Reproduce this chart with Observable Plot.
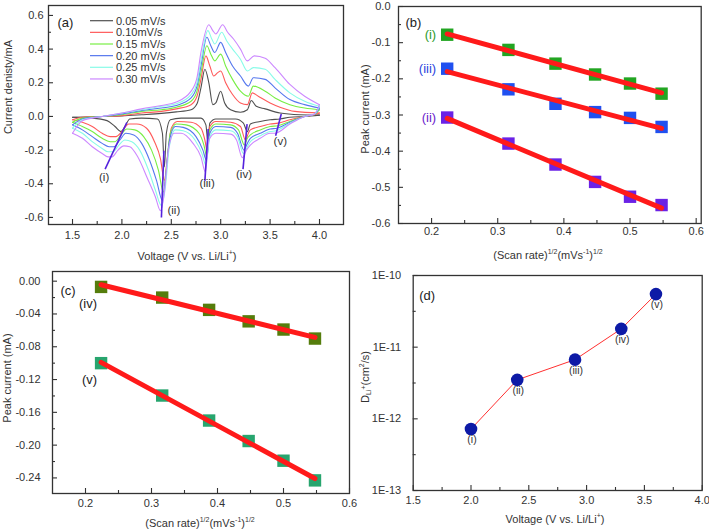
<!DOCTYPE html>
<html><head><meta charset="utf-8">
<script src="https://cdn.jsdelivr.net/npm/d3@7"></script>
<script src="https://cdn.jsdelivr.net/npm/@observablehq/plot@0.6"></script>
<style>
body{margin:0;background:#fff;}
#root{position:relative;width:709px;height:530px;font-family:"Liberation Sans",Arial,sans-serif;color:#333;overflow:hidden;}
.t{position:absolute;font-size:11px;white-space:nowrap;color:#333;line-height:1;}
.t sup{font-size:7px;vertical-align:5px;}
.t sub{font-size:7px;vertical-align:-2px;}
</style></head><body><div id="root"></div>
<script>
// ---------- Panel (a): cyclic voltammograms ----------
const scanRates = ["0.05 mV/s", "0.10mV/s", "0.15 mV/s", "0.20 mV/s", "0.25 mV/s", "0.30 mV/s"];
const an005 = [[1.5,-0.005],[1.8,0.0],[2.0,0.003],[2.2,0.01],[2.4,0.018],[2.55,0.027],[2.7,0.04],[2.76,0.075],[2.8,0.17],[2.84,0.28],[2.88,0.2],[2.92,0.07],[2.95,0.08],[3.0,0.15],[3.04,0.08],[3.1,0.04],[3.2,0.025],[3.27,0.04],[3.31,0.095],[3.36,0.06],[3.45,0.045],[3.6,0.02],[3.8,0.01],[4.0,0.008]];
const ca005 = [[1.5,-0.005],[1.7,-0.01],[1.85,-0.025],[1.93,-0.06],[1.99,-0.09],[2.03,-0.06],[2.08,-0.015],[2.2,-0.01],[2.36,-0.015],[2.41,-0.1],[2.43,-0.3],[2.45,-0.1],[2.49,-0.02],[2.6,-0.01],[2.8,-0.01],[2.85,-0.05],[2.87,-0.15],[2.89,-0.04],[2.95,-0.015],[3.15,-0.015],[3.23,-0.04],[3.27,-0.09],[3.3,-0.045],[3.4,-0.03],[3.5,-0.02],[3.6,-0.015],[3.7,-0.005],[3.85,0.0],[4.0,0.008]];
const an010 = [[1.5,-0.02],[1.6,-0.005],[1.8,0.0],[2.0,0.005],[2.2,0.02],[2.4,0.03],[2.55,0.045],[2.7,0.07],[2.76,0.12],[2.8,0.22],[2.85,0.36],[2.89,0.3],[2.93,0.24],[2.97,0.26],[3.0,0.27],[3.05,0.2],[3.12,0.13],[3.2,0.08],[3.27,0.07],[3.32,0.14],[3.38,0.12],[3.5,0.08],[3.6,0.055],[3.75,0.03],[4.0,0.02]];
const ca010 = [[1.5,-0.02],[1.6,-0.035],[1.7,-0.06],[1.8,-0.1],[1.88,-0.12],[1.94,-0.12],[2.0,-0.09],[2.07,-0.045],[2.15,-0.045],[2.25,-0.07],[2.33,-0.15],[2.39,-0.25],[2.43,-0.38],[2.46,-0.25],[2.5,-0.07],[2.56,-0.03],[2.7,-0.035],[2.8,-0.07],[2.84,-0.14],[2.865,-0.21],[2.89,-0.06],[2.95,-0.03],[3.1,-0.035],[3.2,-0.06],[3.25,-0.14],[3.28,-0.1],[3.3,-0.08],[3.4,-0.06],[3.5,-0.045],[3.58,-0.04],[3.7,-0.02],[3.85,0.0],[3.95,0.01],[4.0,0.02]];
const an015 = [[1.5,-0.035],[1.6,-0.01],[1.8,0.0],[2.0,0.01],[2.2,0.03],[2.4,0.04],[2.55,0.055],[2.7,0.09],[2.76,0.15],[2.8,0.26],[2.86,0.42],[2.9,0.37],[2.94,0.33],[3.0,0.37],[3.05,0.3],[3.12,0.22],[3.2,0.15],[3.28,0.12],[3.33,0.18],[3.45,0.15],[3.55,0.11],[3.7,0.07],[3.85,0.05],[4.0,0.04]];
const ca015 = [[1.5,-0.035],[1.6,-0.06],[1.7,-0.09],[1.8,-0.13],[1.88,-0.15],[1.93,-0.15],[1.99,-0.11],[2.05,-0.075],[2.13,-0.08],[2.22,-0.12],[2.3,-0.2],[2.37,-0.32],[2.42,-0.45],[2.45,-0.3],[2.49,-0.1],[2.55,-0.045],[2.65,-0.05],[2.78,-0.1],[2.83,-0.17],[2.86,-0.24],[2.89,-0.08],[2.95,-0.045],[3.1,-0.05],[3.18,-0.08],[3.24,-0.17],[3.27,-0.13],[3.3,-0.11],[3.4,-0.08],[3.5,-0.06],[3.58,-0.055],[3.7,-0.03],[3.85,0.0],[3.95,0.012],[4.0,0.04]];
const an020 = [[1.5,-0.05],[1.6,-0.015],[1.8,0.0],[2.0,0.015],[2.2,0.035],[2.4,0.05],[2.55,0.065],[2.7,0.11],[2.76,0.18],[2.8,0.3],[2.86,0.47],[2.9,0.42],[2.94,0.38],[3.0,0.44],[3.05,0.38],[3.12,0.3],[3.2,0.24],[3.28,0.18],[3.33,0.23],[3.45,0.22],[3.55,0.17],[3.7,0.1],[3.85,0.07],[4.0,0.05]];
const ca020 = [[1.5,-0.05],[1.6,-0.08],[1.7,-0.12],[1.8,-0.16],[1.87,-0.18],[1.92,-0.18],[1.98,-0.14],[2.04,-0.1],[2.12,-0.11],[2.2,-0.16],[2.28,-0.26],[2.35,-0.38],[2.41,-0.5],[2.44,-0.38],[2.48,-0.15],[2.54,-0.06],[2.62,-0.065],[2.75,-0.12],[2.82,-0.2],[2.855,-0.26],[2.89,-0.1],[2.95,-0.06],[3.1,-0.065],[3.17,-0.1],[3.235,-0.2],[3.27,-0.16],[3.3,-0.13],[3.4,-0.1],[3.5,-0.075],[3.57,-0.07],[3.7,-0.035],[3.85,0.0],[3.95,0.013],[4.0,0.05]];
const an025 = [[1.5,-0.07],[1.6,-0.02],[1.8,0.0],[2.0,0.02],[2.2,0.04],[2.4,0.06],[2.55,0.075],[2.7,0.13],[2.76,0.2],[2.8,0.33],[2.87,0.51],[2.91,0.46],[2.94,0.43],[3.01,0.5],[3.06,0.45],[3.12,0.4],[3.2,0.34],[3.27,0.27],[3.33,0.29],[3.45,0.28],[3.55,0.22],[3.7,0.14],[3.85,0.09],[4.0,0.06]];
const ca025 = [[1.5,-0.07],[1.6,-0.1],[1.7,-0.15],[1.8,-0.19],[1.86,-0.21],[1.91,-0.21],[1.97,-0.17],[2.03,-0.14],[2.1,-0.15],[2.18,-0.2],[2.27,-0.32],[2.34,-0.44],[2.4,-0.53],[2.44,-0.42],[2.48,-0.18],[2.54,-0.08],[2.62,-0.085],[2.74,-0.14],[2.81,-0.22],[2.85,-0.29],[2.89,-0.12],[2.95,-0.08],[3.1,-0.085],[3.17,-0.12],[3.23,-0.22],[3.27,-0.18],[3.3,-0.15],[3.4,-0.115],[3.5,-0.09],[3.56,-0.085],[3.7,-0.04],[3.85,0.0],[3.95,0.014],[4.0,0.06]];
const an030 = [[1.5,-0.1],[1.6,-0.025],[1.8,0.0],[2.0,0.02],[2.2,0.045],[2.4,0.065],[2.55,0.085],[2.7,0.15],[2.76,0.23],[2.8,0.38],[2.88,0.545],[2.92,0.51],[2.95,0.49],[3.02,0.545],[3.07,0.5],[3.13,0.46],[3.2,0.4],[3.27,0.33],[3.34,0.36],[3.45,0.345],[3.55,0.29],[3.7,0.19],[3.85,0.12],[4.0,0.07]];
const ca030 = [[1.5,-0.1],[1.6,-0.13],[1.7,-0.18],[1.8,-0.22],[1.86,-0.24],[1.9,-0.24],[1.96,-0.2],[2.02,-0.175],[2.08,-0.18],[2.16,-0.24],[2.26,-0.37],[2.34,-0.48],[2.39,-0.56],[2.43,-0.45],[2.47,-0.2],[2.53,-0.1],[2.6,-0.1],[2.72,-0.16],[2.8,-0.24],[2.845,-0.33],[2.88,-0.14],[2.95,-0.1],[3.1,-0.105],[3.16,-0.14],[3.22,-0.245],[3.26,-0.2],[3.3,-0.17],[3.4,-0.13],[3.5,-0.1],[3.55,-0.1],[3.7,-0.045],[3.85,0.0],[3.95,0.015],[4.0,0.07]];

const peakLabels = ["(i)", "(ii)", "(iii)", "(iv)", "(v)"];
const markerV1 = [1.83, 2.40, 2.84, 3.226, 3.556];
const markerI1 = [-0.313, -0.6, -0.383, -0.313, -0.115];
const markerV2 = [2.05, 2.425, 2.873, 3.267, 3.613];
const markerI2 = [-0.036, -0.204, -0.075, -0.046, 0.014];
const labelV = [1.82, 2.526, 2.862, 3.236, 3.603];
const labelI = [-0.363, -0.56, -0.40, -0.343, -0.145];

// ---------- Panels (b), (c): peak current vs sqrt(scan rate) ----------
const sqrtScanRate = [0.2236, 0.3162, 0.3873, 0.4472, 0.5, 0.5477];
const peakI = [-0.078, -0.12, -0.158, -0.188, -0.213, -0.241];
const peakII = [-0.307, -0.379, -0.437, -0.485, -0.526, -0.549];
const peakIII = [-0.172, -0.229, -0.269, -0.292, -0.308, -0.333];
const peakIV = [-0.007, -0.020, -0.035, -0.049, -0.059, -0.070];
const peakV = [-0.100, -0.1395, -0.170, -0.195, -0.219, -0.243];

// ---------- Panel (d): diffusion coefficient ----------
const peakVoltage = [2.0, 2.4, 2.9, 3.3, 3.6];
const diffusion = [7.2e-13, 3.5e-12, 6.7e-12, 1.8e-11, 5.5e-11];

// ---------- tick values ----------
const aXTicks = [1.5, 2.0, 2.5, 3.0, 3.5, 4.0];
const aXMinor = [1.75, 2.25, 2.75, 3.25, 3.75];
const aYTicks = [-0.6, -0.4, -0.2, 0.0, 0.2, 0.4, 0.6];
const aYMinor = [-0.5, -0.3, -0.1, 0.1, 0.3, 0.5];
const bXTicks = [0.2, 0.3, 0.4, 0.5, 0.6];
const bXMinor = [0.25, 0.35, 0.45, 0.55];
const bYTicks = [0.0, -0.1, -0.2, -0.3, -0.4, -0.5, -0.6];
const bYMinor = [-0.05, -0.15, -0.25, -0.35, -0.45, -0.55];
const cYTicks = [0.0, -0.04, -0.08, -0.12, -0.16, -0.20, -0.24];
const cYMinor = [-0.02, -0.06, -0.10, -0.14, -0.18, -0.22];
const dYTicks = [1e-13, 1e-12, 1e-11, 1e-10];
const dYMinor = [3.162e-13, 3.162e-12, 3.162e-11];

// ---------- styles ----------
const cvColors = ["#505050", "#ff5a5a", "#77ee44", "#5577ee", "#88fbe8", "#cc88ff"];
const FONT = '"Liberation Sans", Arial, sans-serif';
const svgStyle = `font-family:${FONT};font-size:11px;color:#333;background:transparent;overflow:visible;position:absolute;`;
const root = document.getElementById("root");

function axisMarks(xMaj, xMin, yMaj, yMin, xFmt, yFmt, xPad, yPad) {
  const st = {stroke: "#333", fill: "none", label: null, strokeWidth: 1.1};
  return [
    Plot.axisX(xMaj, {...st, tickSize: -5}),
    Plot.axisX(xMin, {...st, tickSize: -3}),
    Plot.axisX(xMaj, {tickSize: 0, tickPadding: xPad, tickFormat: xFmt, label: null, fill: "#333"}),
    Plot.axisY(yMaj, {...st, tickSize: -5}),
    Plot.axisY(yMin, {...st, tickSize: -3}),
    Plot.axisY(yMaj, {tickSize: 0, tickPadding: yPad, tickFormat: yFmt, label: null, fill: "#333"})
  ];
}
function place(svg, left, top) {
  svg.setAttribute("style", svgStyle + `left:${left}px;top:${top}px;`);
  root.append(svg);
}
function title(html, cx, cy, rot) {
  const d = document.createElement("div");
  d.className = "t";
  d.innerHTML = html;
  d.style.left = cx + "px";
  d.style.top = cy + "px";
  d.style.transform = "translate(-50%,-50%)" + (rot ? " rotate(-90deg)" : "");
  root.append(d);
}
const f1 = d => d.toFixed(1);
const f2 = d => d.toFixed(2);

// ----- build (a) -----
const cvSeries = [[an005, ca005], [an010, ca010], [an015, ca015], [an020, ca020], [an025, ca025], [an030, ca030]];
const cvRows = [];
cvSeries.forEach(([an, ca], k) => {
  an.forEach(([V, I]) => cvRows.push({rate: scanRates[k], key: k + "an", V, I}));
  ca.forEach(([V, I]) => cvRows.push({rate: scanRates[k], key: k + "ca", V, I}));
});
const markerRows = peakLabels.map((l, i) => ({l, x1: markerV1[i], y1: markerI1[i], x2: markerV2[i], y2: markerI2[i], lx: labelV[i], ly: labelI[i]}));

const plotA = Plot.plot({
  width: 350, height: 245, marginLeft: 48, marginRight: 7, marginTop: 5, marginBottom: 21,
  x: {domain: [1.257, 4.243]}, y: {domain: [-0.642, 0.659]},
  color: {domain: scanRates, range: cvColors},
  marks: [
    Plot.line(cvRows, {x: "V", y: "I", z: "key", stroke: "rate", curve: "monotone-x", strokeWidth: 1.1}),
    Plot.link(markerRows, {x1: "x1", y1: "y1", x2: "x2", y2: "y2", stroke: "#5522dd", strokeWidth: 1.6}),
    Plot.text(markerRows, {x: "lx", y: "ly", text: "l", fill: "#333", fontSize: 11.5}),
    Plot.text(["(a)"], {text: d => d, frameAnchor: "top-left", dx: 9, dy: 12, textAnchor: "start", fontSize: 13, fill: "#222"}),
    ...axisMarks(aXTicks, aXMinor, aYTicks, aYMinor, f1, f1, 7, 5),
    Plot.frame({stroke: "#333", strokeWidth: 1.3})
  ]
});
place(plotA, 0, 0);

// legend (a)
const leg = d3.create("svg").attr("width", 140).attr("height", 95)
  .attr("style", `position:absolute;left:0;top:0;overflow:visible;font-family:${FONT};`);
scanRates.forEach((r, i) => {
  const y = 20.7 + i * 11.65;
  leg.append("line").attr("x1", 90).attr("x2", 113).attr("y1", y).attr("y2", y).attr("stroke", cvColors[i]).attr("stroke-width", 1.2);
  leg.append("text").attr("x", 116).attr("y", y).attr("dy", "0.35em").attr("font-size", 11).attr("fill", "#333").text(r);
});
root.append(leg.node());

// ----- build (b) -----
const bSeries = [
  {name: "(i)", vals: peakI, fill: "#22a522", text: "#2a9a2a"},
  {name: "(iii)", vals: peakIII, fill: "#2050f0", text: "#2a44dd"},
  {name: "(ii)", vals: peakII, fill: "#6a22e6", text: "#6a22cc"}
];
const bMarks = [];
bSeries.forEach(s => {
  const rows = sqrtScanRate.map((x, i) => ({x, y: s.vals[i]}));
  bMarks.push(Plot.dot(rows, {x: "x", y: "y", symbol: "square", r: 7, fill: s.fill}));
  bMarks.push(Plot.linearRegressionY(rows, {x: "x", y: "y", stroke: "#ff1a1a", strokeWidth: 5, ci: 0}));
  bMarks.push(Plot.text([rows[0]], {x: "x", y: "y", text: () => s.name, dx: -11, textAnchor: "end", fill: s.text, fontSize: 13}));
});
const plotB = Plot.plot({
  width: 359, height: 245, marginLeft: 48, marginRight: 8.3, marginTop: 6, marginBottom: 22,
  x: {domain: [0.15, 0.6076]}, y: {domain: [-0.6, 0]},
  marks: [
    ...bMarks,
    Plot.text(["(b)"], {text: d => d, frameAnchor: "top-left", dx: 7, dy: 11, textAnchor: "start", fontSize: 13, fill: "#222"}),
    ...axisMarks(bXTicks, bXMinor, bYTicks, bYMinor, f1, f1, 4, 8),
    Plot.frame({stroke: "#333", strokeWidth: 1.3})
  ]
});
place(plotB, 350, 0);

// ----- build (c) -----
const cSeries = [
  {name: "(iv)", vals: peakIV, fill: "#557d0c"},
  {name: "(v)", vals: peakV, fill: "#27a56e"}
];
const cMarks = [];
cSeries.forEach(s => {
  const rows = sqrtScanRate.map((x, i) => ({x, y: s.vals[i]}));
  cMarks.push(Plot.dot(rows, {x: "x", y: "y", symbol: "square", r: 7, fill: s.fill}));
  cMarks.push(Plot.linearRegressionY(rows, {x: "x", y: "y", stroke: "#ff1a1a", strokeWidth: 5, ci: 0}));
  cMarks.push(Plot.text([rows[0]], {x: "x", y: "y", text: () => s.name, dx: -4, dy: 17, textAnchor: "end", fill: "#222", fontSize: 13}));
});
const plotC = Plot.plot({
  width: 362, height: 250, marginLeft: 52, marginRight: 13, marginTop: 6, marginBottom: 22,
  x: {domain: [0.15, 0.6]}, y: {domain: [-0.259, 0.0118]},
  marks: [
    ...cMarks,
    Plot.text(["(c)"], {text: d => d, frameAnchor: "top-left", dx: 8, dy: 14, textAnchor: "start", fontSize: 13, fill: "#222"}),
    ...axisMarks(bXTicks, bXMinor, cYTicks, cYMinor, f1, f2, 6, 12),
    Plot.frame({stroke: "#333", strokeWidth: 1.3})
  ]
});
place(plotC, 0, 265);

// ----- build (d) -----
const dRows = peakVoltage.map((v, i) => ({v, D: diffusion[i], l: peakLabels[i]}));
const plotD = Plot.plot({
  width: 359, height: 250, marginLeft: 62.7, marginRight: 7.3, marginTop: 10, marginBottom: 25,
  x: {domain: [1.5, 4.0]}, y: {type: "log", domain: [1e-13, 1e-10]},
  marks: [
    Plot.line(dRows, {x: "v", y: "D", stroke: "#ff3030", strokeWidth: 1}),
    Plot.dot(dRows, {x: "v", y: "D", r: 6.3, fill: "#0d1aa6"}),
    Plot.text(dRows, {x: "v", y: "D", text: "l", dy: 11, dx: 1, fill: "#333", fontSize: 10.5}),
    Plot.text(["(d)"], {text: d => d, frameAnchor: "top-left", dx: 6, dy: 15, textAnchor: "start", fontSize: 13, fill: "#222"}),
    ...axisMarks(aXTicks, aXMinor, dYTicks, dYMinor, f1, d => "1E" + Math.round(Math.log10(d)), 6, 12),
    Plot.frame({stroke: "#333", strokeWidth: 1.3})
  ]
});
place(plotD, 350, 265);

// ----- axis titles -----
title("Current denisty/mA", 8, 87, true);
title("Voltage (V vs. Li/Li<sup>+</sup>)", 187, 255);
title("Peak current (mA)", 365, 109, true);
title("(Scan rate)<sup>1/2</sup>(mVs<sup>-1</sup>)<sup>1/2</sup>", 548, 254);
title("Peak current (mA)", 7, 378, true);
title("(Scan rate)<sup>1/2</sup>(mVs<sup>-1</sup>)<sup>1/2</sup>", 200, 522);
title("D<sub>Li<sup>+</sup></sub>(cm<sup>2</sup>/s)", 365, 377, true);
title("Voltage (V vs. Li/Li<sup>+</sup>)", 555, 518);
</script></body></html>
